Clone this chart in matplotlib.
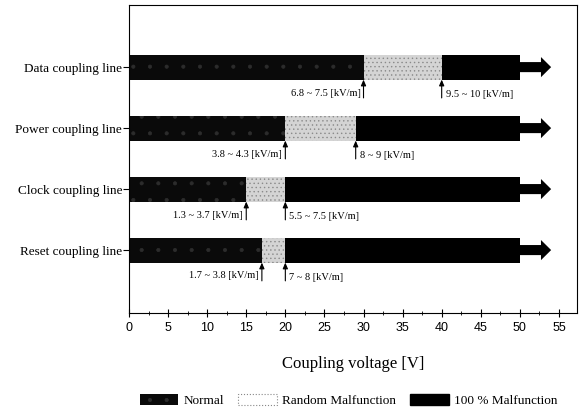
import matplotlib.pyplot as plt
import matplotlib.patches as mpatches

# data
lines = ["Data coupling line", "Power coupling line", "Clock coupling line", "Reset coupling line"]
normal_end = [30, 20, 15, 17]
random_end = [40, 29, 20, 20]
full_end = [50, 50, 50, 50]
arrow_tip = 54
left_labels = ["6.8 ~ 7.5 [kV/m]", "3.8 ~ 4.3 [kV/m]", "1.3 ~ 3.7 [kV/m]", "1.7 ~ 3.8 [kV/m]"]
right_labels = ["9.5 ~ 10 [kV/m]", "8 ~ 9 [kV/m]", "5.5 ~ 7.5 [kV/m]", "7 ~ 8 [kV/m]"]

serif = "Liberation Serif"
sans = "Liberation Sans"
plt.rcParams["hatch.linewidth"] = 0.5

fig = plt.figure(figsize=(5.81, 4.09), dpi=100)
ax = fig.add_axes([0.222, 0.235, 0.771, 0.753])

ypos = [4, 3, 2, 1]
h = 0.41

for i, y in enumerate(ypos):
    # normal region
    ax.barh(y, normal_end[i], left=0, height=h, color="#0a0a0a",
            edgecolor="#2c2c2c", hatch=".", linewidth=0)
    # random malfunction
    ax.barh(y, random_end[i] - normal_end[i], left=normal_end[i], height=h,
            color="#d4d4d4", edgecolor="#8a8a8a", hatch="....", linewidth=0)
    # 100 % malfunction
    ax.barh(y, full_end[i] - random_end[i], left=random_end[i], height=h,
            color="black", linewidth=0)
    ax.arrow(full_end[i], y, arrow_tip - full_end[i], 0, width=0.165,
             head_width=0.33, head_length=1.3, length_includes_head=True,
             color="black", linewidth=0)

    yb = y - h / 2
    ax.annotate("", xy=(normal_end[i], yb), xytext=(normal_end[i], yb - 0.3),
                arrowprops=dict(arrowstyle="-|>,head_length=0.35,head_width=0.15",
                                color="black", lw=0.8, shrinkA=0, shrinkB=0))
    ax.annotate("", xy=(random_end[i], yb), xytext=(random_end[i], yb - 0.3),
                arrowprops=dict(arrowstyle="-|>,head_length=0.35,head_width=0.15",
                                color="black", lw=0.8, shrinkA=0, shrinkB=0))
    ax.text(normal_end[i] - 0.4, yb - 0.22, left_labels[i], ha="right", va="center",
            fontsize=7.5, family=serif)
    ax.text(random_end[i] + 0.5, yb - 0.24, right_labels[i], ha="left", va="center",
            fontsize=7.5, family=serif)

ax.set_xlim(0, 57.3)
ax.set_ylim(-0.03, 5.02)
ax.set_xticks(range(0, 56, 5))
ax.set_xticks([x + 2.5 for x in range(0, 55, 5)], minor=True)
ax.tick_params(axis="x", which="major", direction="inout", length=6, width=0.8,
               labelsize=9)
ax.tick_params(axis="x", which="minor", direction="inout", length=3, width=0.6)
for lab in ax.get_xticklabels():
    lab.set_family(sans)
ax.set_yticks(ypos)
ax.set_yticklabels(lines, family=serif, fontsize=9.5)
ax.tick_params(axis="y", direction="out", length=4, width=0.8, pad=1)
for s in ax.spines.values():
    s.set_linewidth(0.8)

ax.set_xlabel("Coupling voltage [V]", family=serif, fontsize=12, labelpad=16)

handles = [
    mpatches.Patch(facecolor="#0a0a0a", edgecolor="#2c2c2c", hatch=".", linewidth=0,
                   label="Normal"),
    mpatches.Patch(facecolor="white", edgecolor="#888888", linestyle=":", linewidth=0.8,
                   label="Random Malfunction"),
    mpatches.Patch(facecolor="black", edgecolor="black", label="100 % Malfunction"),
]
fig.legend(handles=handles, loc="lower center", bbox_to_anchor=(0.6, -0.025), ncol=3,
           frameon=False, prop={"family": serif, "size": 9.5}, handlelength=2.9,
           handleheight=0.9, columnspacing=1.1, handletextpad=0.4)

fig.savefig("out.png", dpi=100)
